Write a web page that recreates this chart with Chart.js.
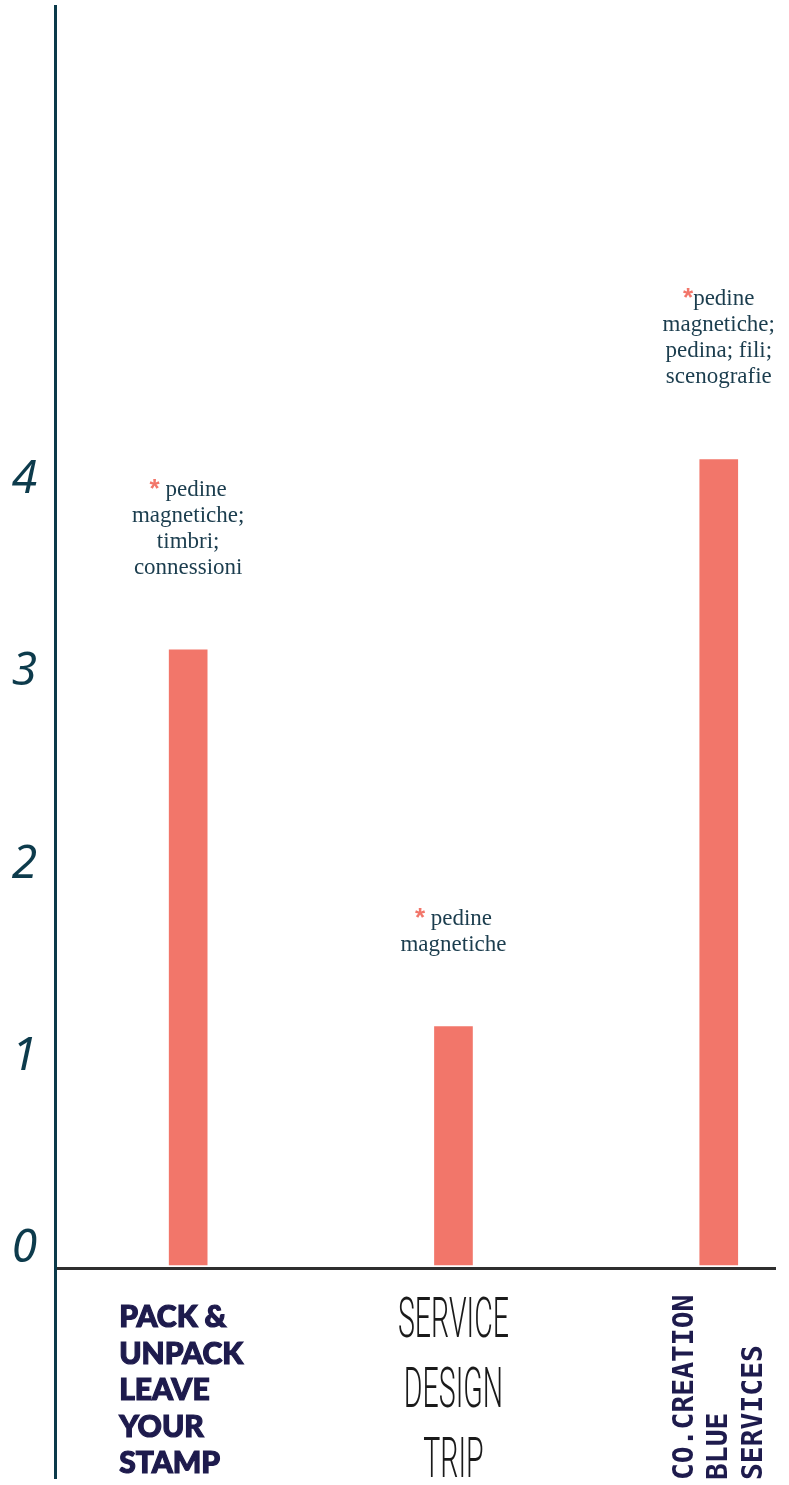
<!DOCTYPE html>
<html>
<head>
<meta charset="utf-8">
<script src="https://cdn.jsdelivr.net/npm/chart.js@4.4.0/dist/chart.umd.min.js"></script>
<style>
  html, body { margin: 0; padding: 0; background: #fff; }
  #wrap { position: relative; width: 789px; height: 1485px; }
</style>
</head>
<body>
<div id="wrap"><canvas id="pedine"></canvas></div>
<script>
// data
const categories = ['PACK & UNPACK LEAVE YOUR STAMP', 'SERVICE DESIGN TRIP', 'CO.CREATION BLUE SERVICES'];
const values = [3.2, 1.24, 4.19];
const yTicks = [0, 1, 2, 3, 4];
const notes = [
  ['* pedine', 'magnetiche;', 'timbri;', 'connessioni'],
  ['* pedine', 'magnetiche'],
  ['*pedine', 'magnetiche;', 'pedina; fili;', 'scenografie']
];
const labelLines = [
  ['PACK &', 'UNPACK', 'LEAVE', 'YOUR', 'STAMP'],
  ['SERVICE', 'DESIGN', 'TRIP'],
  ['CO.CREATION', 'BLUE', 'SERVICES']
];

const salmon = '#f2766a';
const teal = '#1b3d4e';
const navy = '#1e1b4d';

// notes above the bars, first line starts with a coloured asterisk
const notesPlugin = {
  id: 'notes',
  afterDatasetsDraw(chart) {
    const ctx = chart.ctx;
    const bars = chart.getDatasetMeta(0).data;
    const lh = 26;
    ctx.save();
    ctx.textBaseline = 'alphabetic';
    bars.forEach((bar, i) => {
      const lines = notes[i];
      let y = bar.y - 76 - (lines.length - 1) * lh;
      lines.forEach((line, j) => {
        if (j === 0 && line[0] === '*') {
          const rest = line.slice(1);
          ctx.font = 'bold 26px "Liberation Sans"';
          const aw = ctx.measureText('*').width;
          ctx.font = '23px "Liberation Serif"';
          const rw = ctx.measureText(rest).width;
          const x = bar.x - (aw + rw) / 2;
          ctx.textAlign = 'left';
          ctx.fillStyle = salmon;
          ctx.font = 'bold 26px "Liberation Sans"';
          ctx.fillText('*', x, y + 1);
          ctx.fillStyle = teal;
          ctx.font = '23px "Liberation Serif"';
          ctx.fillText(rest, x + aw, y);
        } else {
          ctx.textAlign = 'center';
          ctx.fillStyle = teal;
          ctx.font = '23px "Liberation Serif"';
          ctx.fillText(line, bar.x, y);
        }
        y += lh;
      });
    });
    ctx.restore();
  }
};

// category labels, each one in its own style
const xLabelPlugin = {
  id: 'xLabels',
  afterDraw(chart) {
    const ctx = chart.ctx;
    const xs = chart.scales.x;
    const base = chart.scales.y.getPixelForValue(0);
    ctx.save();
    ctx.textBaseline = 'alphabetic';

    // 1: heavy sans, left aligned
    let cx = xs.getPixelForValue(0);
    ctx.fillStyle = navy;
    ctx.font = '900 30px Lato';
    ctx.textAlign = 'left';
    labelLines[0].forEach((t, j) => {
      ctx.fillText(t, cx - 69, base + 62 + j * 36.6);
      ctx.lineWidth = 1.2;
      ctx.strokeStyle = navy;
      ctx.strokeText(t, cx - 69, base + 62 + j * 36.6);
    });

    // 2: thin condensed capitals
    cx = xs.getPixelForValue(1);
    ctx.fillStyle = '#1a1a1a';
    ctx.font = '300 56px Roboto';
    ctx.textAlign = 'center';
    const sx = 0.51;
    labelLines[1].forEach((t, j) => {
      ctx.save();
      ctx.scale(sx, 1);
      ctx.fillText(t, cx / sx, base + 72 + j * 70);
      ctx.restore();
    });

    // 3: bold mono, rotated
    cx = xs.getPixelForValue(2);
    ctx.fillStyle = navy;
    ctx.font = 'bold 28px "DejaVu Sans Mono"';
    ctx.textAlign = 'left';
    labelLines[2].forEach((t, j) => {
      ctx.save();
      ctx.translate(cx - 26 + j * 34.5, base + 215);
      ctx.rotate(-Math.PI / 2);
      ctx.fillText(t, 0, 0);
      ctx.restore();
    });
    ctx.restore();
  }
};

new Chart(document.getElementById('pedine'), {
  type: 'bar',
  data: {
    labels: categories,
    datasets: [{
      data: values.map((v, i) => ({ x: i, y: v })),
      backgroundColor: salmon,
      borderWidth: 0,
      barThickness: 38
    }]
  },
  options: {
    responsive: true,
    maintainAspectRatio: false,
    animation: false,
    layout: { padding: { top: 6, right: 14, bottom: 7, left: 0 } },
    plugins: {
      legend: { display: false },
      tooltip: { enabled: false }
    },
    scales: {
      x: {
        type: 'linear',
        offset: false,
        min: -0.502,
        max: 2.212,
        position: { y: -0.018 },
        grid: { display: false, drawTicks: false },
        ticks: { display: false },
        border: { display: true, color: '#2f2f2f', width: 3 }
      },
      y: {
        min: -1.108,
        max: 6.549,
        afterBuildTicks: s => { s.ticks = yTicks.map(v => ({ value: v })); },
        afterFit: s => { s.width = 55; s.paddingTop = 0; s.paddingBottom = 0; },
        grid: { display: false, drawTicks: false },
        border: { display: true, color: '#0b3a4a', width: 3 },
        ticks: {
          color: '#0d3b4c',
          font: { family: '"Noto Sans"', size: 46, style: 'italic' },
          padding: 18,
          labelOffset: -16
        }
      }
    }
  },
  plugins: [notesPlugin, xLabelPlugin]
});
</script>
</body>
</html>
